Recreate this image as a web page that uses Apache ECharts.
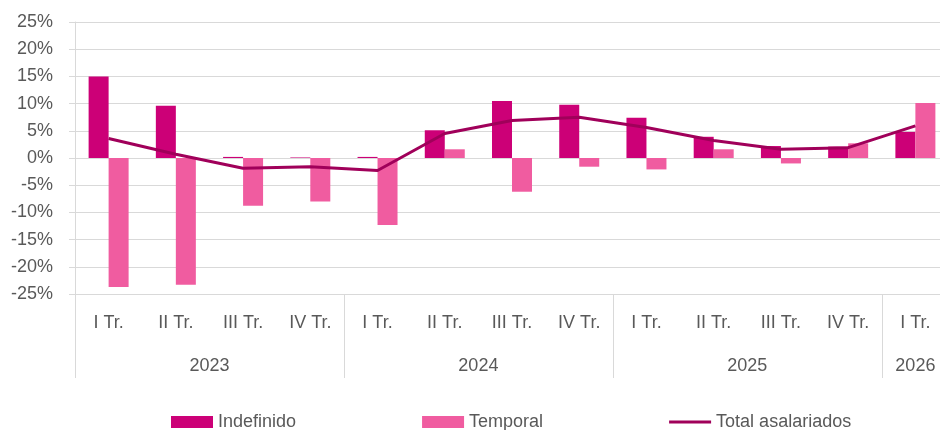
<!DOCTYPE html>
<html>
<head>
<meta charset="utf-8">
<script src="https://cdn.jsdelivr.net/npm/echarts@6/dist/echarts.min.js"></script>
<style>
html,body{margin:0;padding:0;background:#fff;}
#chart{width:940px;height:430px;}
</style>
</head>
<body>
<div id="chart"></div>
<script>
var quarters = ['I Tr.','II Tr.','III Tr.','IV Tr.','I Tr.','II Tr.','III Tr.','IV Tr.','I Tr.','II Tr.','III Tr.','IV Tr.','I Tr.'];
var years = ['2023','2024','2025','2026'];
var quartersPerYear = [4,4,4,1];
var indefinido = [15.0, 9.6, 0.2, 0.1, 0.2, 5.1, 10.5, 9.8, 7.4, 3.9, 2.2, 2.1, 4.8];
var temporal = [-23.7, -23.3, -8.8, -8.0, -12.3, 1.6, -6.2, -1.6, -2.1, 1.6, -1.0, 2.7, 10.1];
var totalAsalariados = [3.6, 0.7, -1.9, -1.6, -2.3, 4.5, 6.9, 7.5, 5.6, 3.2, 1.6, 1.9, 5.9];
var yTicks = {min: -25, max: 25, step: 5};

// year axis: half-category points (2*N+1), labels at group centers, ticks at group boundaries
var nHalf = quarters.length * 2 + 1;
var yearAxisData = [];
var boundary = {};
for (var i = 0; i < nHalf; i++) yearAxisData.push('');
var start = 0;
for (var k = 0; k < years.length; k++) {
  yearAxisData[2 * start + quartersPerYear[k]] = years[k];
  boundary[2 * start] = true;
  start += quartersPerYear[k];
}
boundary[2 * start] = true;

var txt = '#595959';
var gridCol = '#D9D9D9';
var font = 'Liberation Sans, Arial, sans-serif';
var fs = 18;

var chart = echarts.init(document.getElementById('chart'), null, {renderer: 'canvas'});
chart.setOption({
  animation: false,
  textStyle: {fontFamily: font},
  grid: {left: 75, top: 22, width: 874, height: 272, containLabel: false, outerBoundsMode: 'none'},
  legend: {
    left: 171, top: 413, padding: 0,
    itemWidth: 42, itemHeight: 12, itemGap: 126,
    textStyle: {color: txt, fontSize: fs, fontFamily: font},
    data: [
      {name: 'Indefinido', icon: 'rect'},
      {name: 'Temporal', icon: 'rect'},
      {name: 'Total asalariados', icon: 'path://M0,0 L42,0 L42,3 L0,3 Z',
        itemStyle: {color: '#A0005A'}}
    ]
  },
  xAxis: [
    {
      type: 'category', data: quarters, position: 'bottom',
      axisLine: {show: true, onZero: false, lineStyle: {color: gridCol, width: 1}},
      axisTick: {show: false},
      axisLabel: {color: txt, fontSize: fs, margin: 20, interval: 0, fontFamily: font}
    },
    {
      type: 'category', data: yearAxisData, position: 'bottom', boundaryGap: false,
      axisLine: {show: false, onZero: false},
      axisTick: {show: true, length: 84, lineStyle: {color: gridCol, width: 1},
        interval: function (idx) { return !!boundary[idx]; }},
      axisLabel: {color: txt, fontSize: fs, margin: 63, interval: 0, fontFamily: font}
    }
  ],
  yAxis: {
    type: 'value', min: yTicks.min, max: yTicks.max, interval: yTicks.step,
    axisLine: {show: true, lineStyle: {color: gridCol, width: 1}},
    axisTick: {show: true, length: 6, lineStyle: {color: gridCol}},
    axisLabel: {color: txt, fontSize: fs, margin: 22, formatter: '{value}%', fontFamily: font},
    splitLine: {show: true, lineStyle: {color: gridCol, width: 1}}
  },
  series: [
    {name: 'Indefinido', type: 'bar', data: indefinido, barWidth: 20, barGap: '0%',
      itemStyle: {color: '#CC0077'}},
    {name: 'Temporal', type: 'bar', data: temporal, barWidth: 20, barGap: '0%',
      itemStyle: {color: '#F05CA0'}},
    {name: 'Total asalariados', type: 'line', data: totalAsalariados, symbol: 'none',
      lineStyle: {color: '#A0005A', width: 3}, itemStyle: {color: '#A0005A'}, z: 5}
  ]
});
</script>
</body>
</html>
